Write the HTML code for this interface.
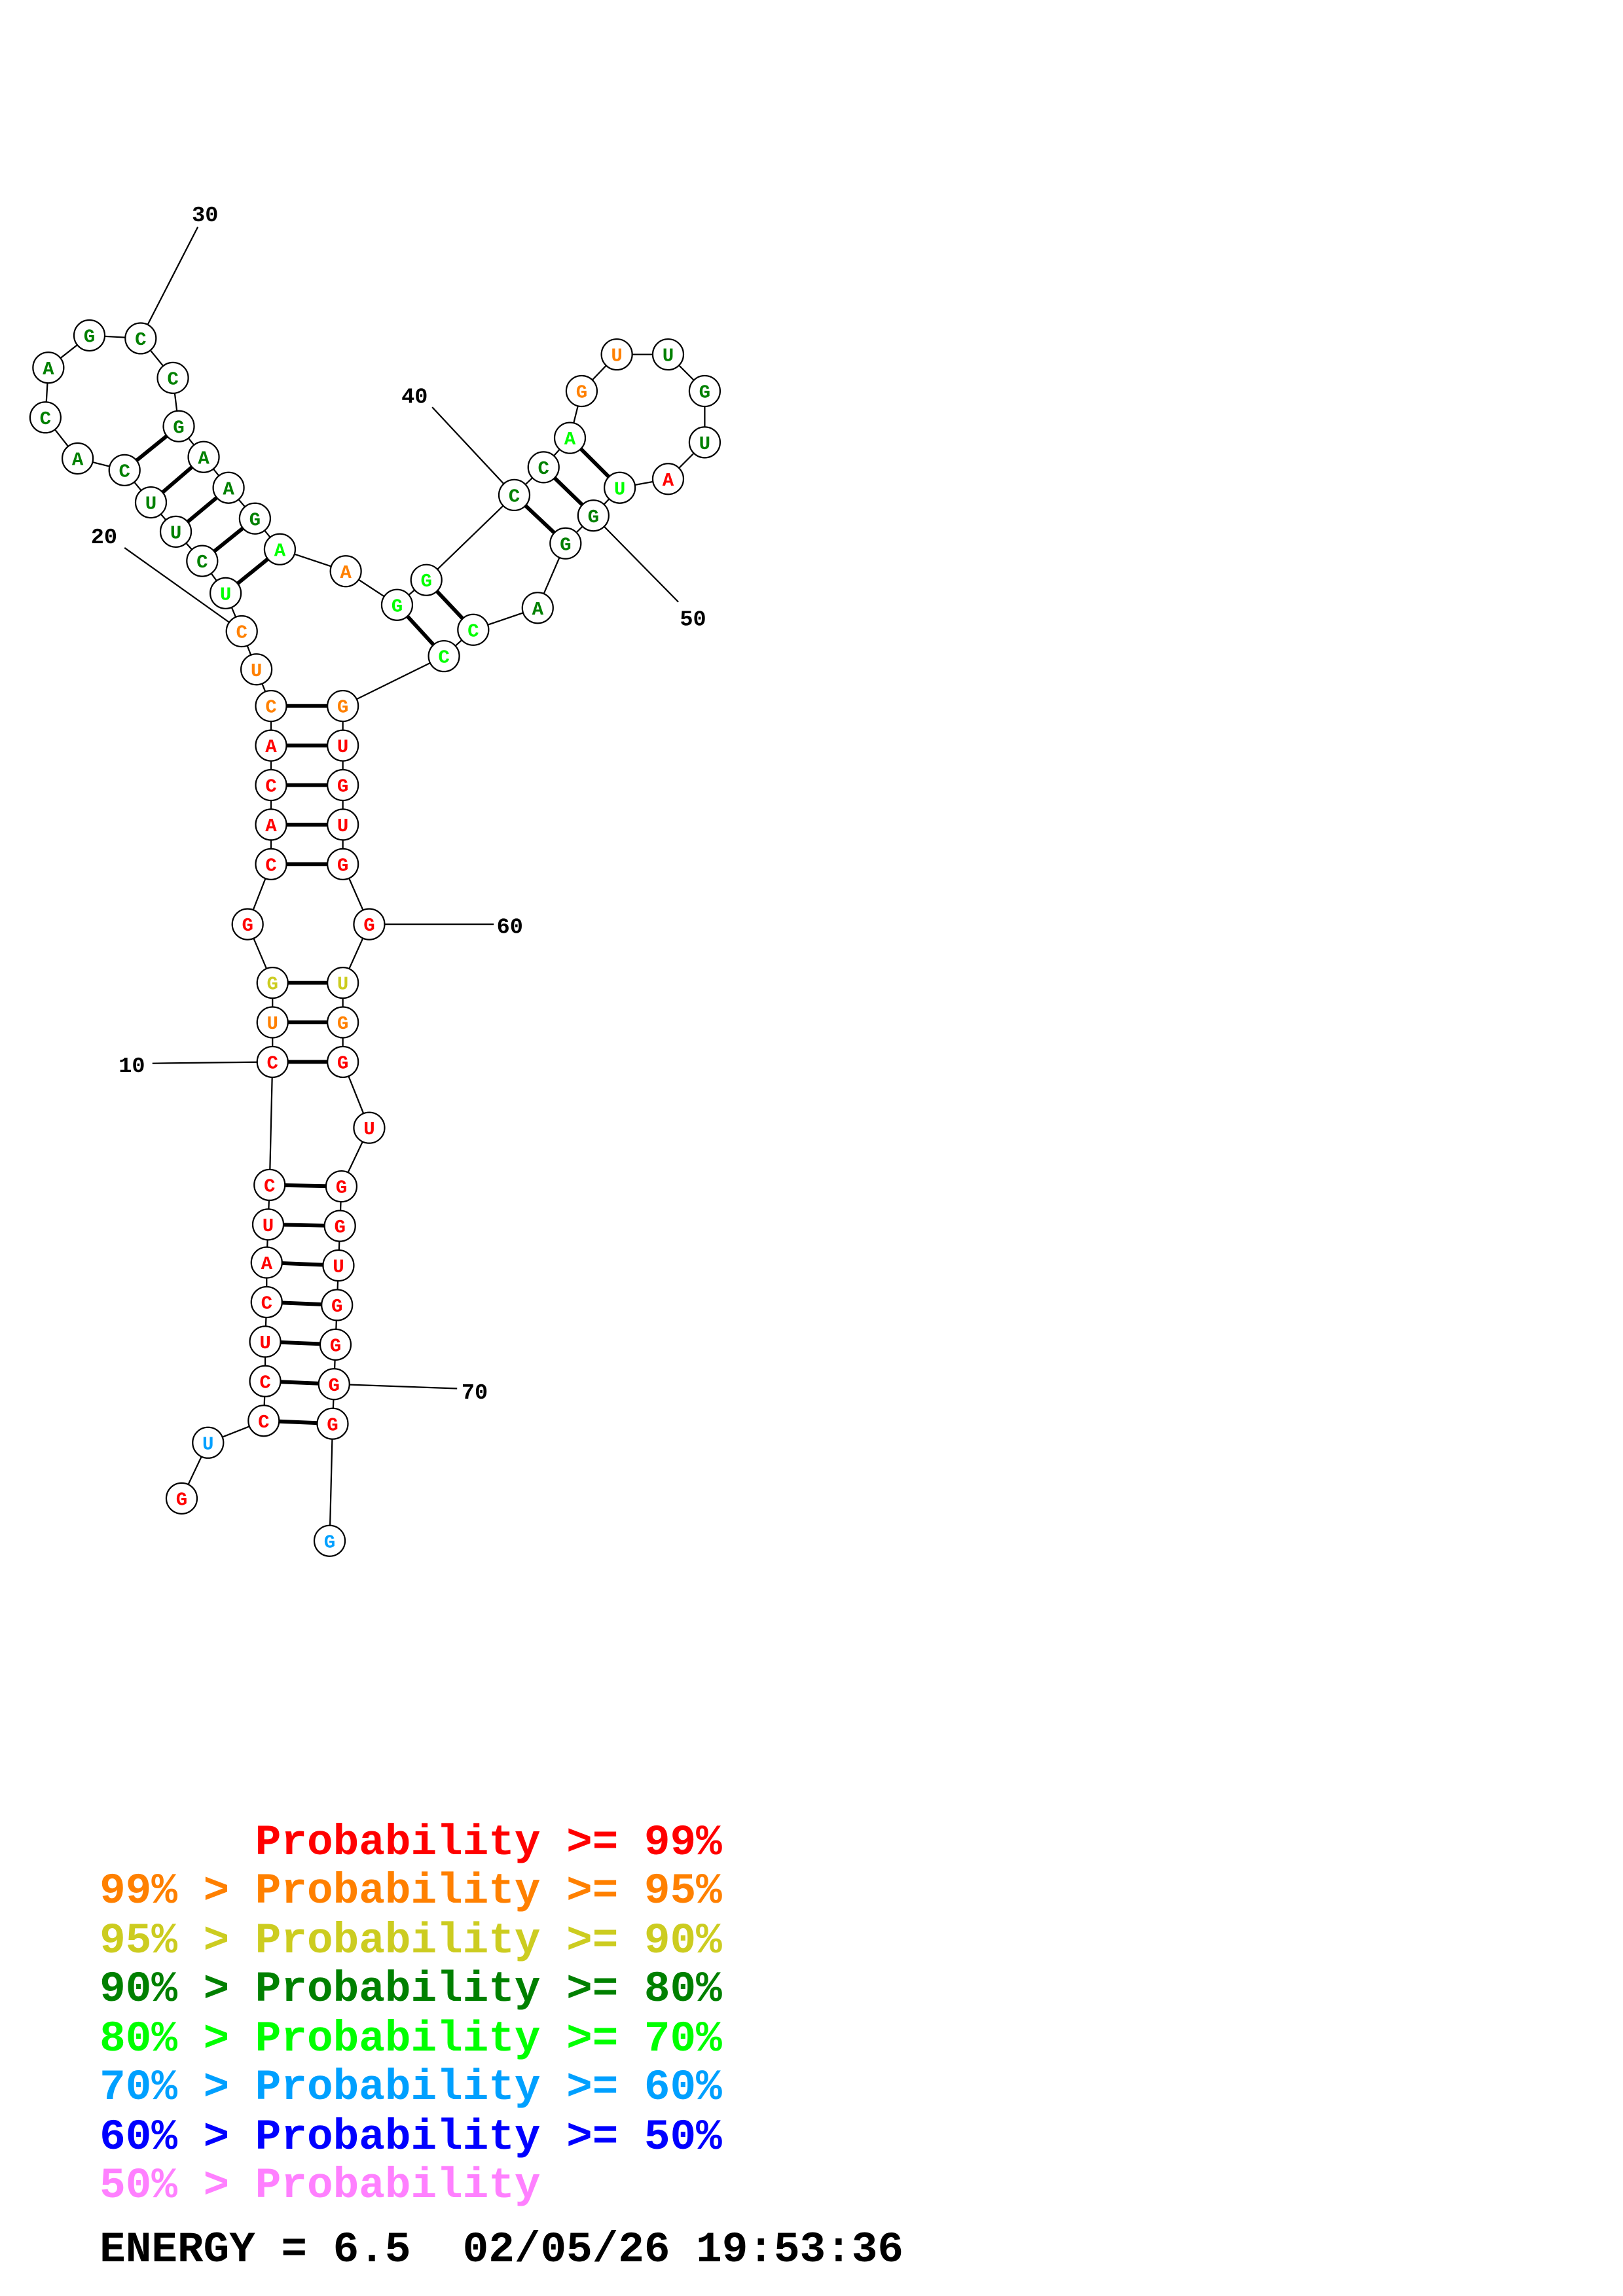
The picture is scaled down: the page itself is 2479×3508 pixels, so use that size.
<!DOCTYPE html>
<html><head><meta charset="utf-8"><style>html,body{margin:0;padding:0;background:#fff}svg{display:block}.pre{white-space:pre}</style></head><body>
<svg width="2479" height="3508" viewBox="0 0 1100 1556.6" preserveAspectRatio="none" xmlns="http://www.w3.org/2000/svg">
<g transform="scale(0.993)">
<g stroke="#000" stroke-width="1" fill="none">
<polyline points="124,1023 142,985 180,970 181,943 181,916 182,889 182,862 183,836 184,809 186,725 186,698 186,671 169,631 185,590 185,563 185,536 185,509 185,482 175,457 165,431 154,405 138,383 120,363 103,343 85,321 53,313 31,285 33,251 61,229 96,231 118,258 122,291 139,312 156,333 174,354 191,375 236,390 271,413 291,396 351,338 371,319 389,299 397,267 421,242 456,242 481,267 481,302 456,327 423,333 405,352 386,371 367,415 323,430 303,448 234,482 234,509 234,536 234,563 234,590 252,631 234,671 234,698 234,725 252,770 233,810 232,837 231,864 230,891 229,918 228,945 227,972 225,1052"/>
<line x1="104" y1="726" x2="186" y2="725"/>
<line x1="85" y1="374" x2="165" y2="431"/>
<line x1="135" y1="155" x2="96" y2="231"/>
<line x1="295" y1="278" x2="351" y2="338"/>
<line x1="463" y1="411" x2="405" y2="352"/>
<line x1="337" y1="631" x2="252" y2="631"/>
<line x1="312" y1="948" x2="228" y2="945"/>
</g>
<g stroke="#000" stroke-width="2.6">
<line x1="180" y1="970" x2="227" y2="972"/><line x1="181" y1="943" x2="228" y2="945"/><line x1="181" y1="916" x2="229" y2="918"/><line x1="182" y1="889" x2="230" y2="891"/><line x1="182" y1="862" x2="231" y2="864"/><line x1="183" y1="836" x2="232" y2="837"/><line x1="184" y1="809" x2="233" y2="810"/>
<line x1="186" y1="725" x2="234" y2="725"/><line x1="186" y1="698" x2="234" y2="698"/><line x1="186" y1="671" x2="234" y2="671"/>
<line x1="185" y1="590" x2="234" y2="590"/><line x1="185" y1="563" x2="234" y2="563"/><line x1="185" y1="536" x2="234" y2="536"/><line x1="185" y1="509" x2="234" y2="509"/><line x1="185" y1="482" x2="234" y2="482"/>
<line x1="154" y1="405" x2="191" y2="375"/><line x1="138" y1="383" x2="174" y2="354"/><line x1="120" y1="363" x2="156" y2="333"/><line x1="103" y1="343" x2="139" y2="312"/><line x1="85" y1="321" x2="122" y2="291"/>
<line x1="271" y1="413" x2="303" y2="448"/><line x1="291" y1="396" x2="323" y2="430"/>
<line x1="351" y1="338" x2="386" y2="371"/><line x1="371" y1="319" x2="405" y2="352"/><line x1="389" y1="299" x2="423" y2="333"/>
</g>
<g stroke="#000" stroke-width="1" fill="#fff">
<circle cx="124" cy="1023" r="10.5"/><circle cx="142" cy="985" r="10.5"/><circle cx="180" cy="970" r="10.5"/><circle cx="181" cy="943" r="10.5"/><circle cx="181" cy="916" r="10.5"/><circle cx="182" cy="889" r="10.5"/><circle cx="182" cy="862" r="10.5"/><circle cx="183" cy="836" r="10.5"/><circle cx="184" cy="809" r="10.5"/><circle cx="186" cy="725" r="10.5"/><circle cx="186" cy="698" r="10.5"/><circle cx="186" cy="671" r="10.5"/><circle cx="169" cy="631" r="10.5"/><circle cx="185" cy="590" r="10.5"/><circle cx="185" cy="563" r="10.5"/><circle cx="185" cy="536" r="10.5"/><circle cx="185" cy="509" r="10.5"/><circle cx="185" cy="482" r="10.5"/><circle cx="175" cy="457" r="10.5"/><circle cx="165" cy="431" r="10.5"/><circle cx="154" cy="405" r="10.5"/><circle cx="138" cy="383" r="10.5"/><circle cx="120" cy="363" r="10.5"/><circle cx="103" cy="343" r="10.5"/><circle cx="85" cy="321" r="10.5"/><circle cx="53" cy="313" r="10.5"/><circle cx="31" cy="285" r="10.5"/><circle cx="33" cy="251" r="10.5"/><circle cx="61" cy="229" r="10.5"/><circle cx="96" cy="231" r="10.5"/><circle cx="118" cy="258" r="10.5"/><circle cx="122" cy="291" r="10.5"/><circle cx="139" cy="312" r="10.5"/><circle cx="156" cy="333" r="10.5"/><circle cx="174" cy="354" r="10.5"/><circle cx="191" cy="375" r="10.5"/><circle cx="236" cy="390" r="10.5"/><circle cx="271" cy="413" r="10.5"/><circle cx="291" cy="396" r="10.5"/><circle cx="351" cy="338" r="10.5"/><circle cx="371" cy="319" r="10.5"/><circle cx="389" cy="299" r="10.5"/><circle cx="397" cy="267" r="10.5"/><circle cx="421" cy="242" r="10.5"/><circle cx="456" cy="242" r="10.5"/><circle cx="481" cy="267" r="10.5"/><circle cx="481" cy="302" r="10.5"/><circle cx="456" cy="327" r="10.5"/><circle cx="423" cy="333" r="10.5"/><circle cx="405" cy="352" r="10.5"/><circle cx="386" cy="371" r="10.5"/><circle cx="367" cy="415" r="10.5"/><circle cx="323" cy="430" r="10.5"/><circle cx="303" cy="448" r="10.5"/><circle cx="234" cy="482" r="10.5"/><circle cx="234" cy="509" r="10.5"/><circle cx="234" cy="536" r="10.5"/><circle cx="234" cy="563" r="10.5"/><circle cx="234" cy="590" r="10.5"/><circle cx="252" cy="631" r="10.5"/><circle cx="234" cy="671" r="10.5"/><circle cx="234" cy="698" r="10.5"/><circle cx="234" cy="725" r="10.5"/><circle cx="252" cy="770" r="10.5"/><circle cx="233" cy="810" r="10.5"/><circle cx="232" cy="837" r="10.5"/><circle cx="231" cy="864" r="10.5"/><circle cx="230" cy="891" r="10.5"/><circle cx="229" cy="918" r="10.5"/><circle cx="228" cy="945" r="10.5"/><circle cx="227" cy="972" r="10.5"/><circle cx="225" cy="1052" r="10.5"/>
</g>
<g font-family="Liberation Mono, monospace" font-weight="bold" font-size="13" text-anchor="middle">
<text x="124" y="1027.5" fill="#f00">G</text><text x="142" y="989.5" fill="#00a0ff">U</text><text x="180" y="974.5" fill="#f00">C</text><text x="181" y="947.5" fill="#f00">C</text><text x="181" y="920.5" fill="#f00">U</text><text x="182" y="893.5" fill="#f00">C</text><text x="182" y="866.5" fill="#f00">A</text><text x="183" y="840.5" fill="#f00">U</text><text x="184" y="813.5" fill="#f00">C</text><text x="186" y="729.5" fill="#f00">C</text><text x="186" y="702.5" fill="#ff8000">U</text><text x="186" y="675.5" fill="#cccc20">G</text><text x="169" y="635.5" fill="#f00">G</text><text x="185" y="594.5" fill="#f00">C</text><text x="185" y="567.5" fill="#f00">A</text><text x="185" y="540.5" fill="#f00">C</text><text x="185" y="513.5" fill="#f00">A</text><text x="185" y="486.5" fill="#ff8000">C</text><text x="175" y="461.5" fill="#ff8000">U</text><text x="165" y="435.5" fill="#ff8000">C</text><text x="154" y="409.5" fill="#0f0">U</text><text x="138" y="387.5" fill="#008000">C</text><text x="120" y="367.5" fill="#008000">U</text><text x="103" y="347.5" fill="#008000">U</text><text x="85" y="325.5" fill="#008000">C</text><text x="53" y="317.5" fill="#008000">A</text><text x="31" y="289.5" fill="#008000">C</text><text x="33" y="255.5" fill="#008000">A</text><text x="61" y="233.5" fill="#008000">G</text><text x="96" y="235.5" fill="#008000">C</text><text x="118" y="262.5" fill="#008000">C</text><text x="122" y="295.5" fill="#008000">G</text><text x="139" y="316.5" fill="#008000">A</text><text x="156" y="337.5" fill="#008000">A</text><text x="174" y="358.5" fill="#008000">G</text><text x="191" y="379.5" fill="#0f0">A</text><text x="236" y="394.5" fill="#ff8000">A</text><text x="271" y="417.5" fill="#0f0">G</text><text x="291" y="400.5" fill="#0f0">G</text><text x="351" y="342.5" fill="#008000">C</text><text x="371" y="323.5" fill="#008000">C</text><text x="389" y="303.5" fill="#0f0">A</text><text x="397" y="271.5" fill="#ff8000">G</text><text x="421" y="246.5" fill="#ff8000">U</text><text x="456" y="246.5" fill="#008000">U</text><text x="481" y="271.5" fill="#008000">G</text><text x="481" y="306.5" fill="#008000">U</text><text x="456" y="331.5" fill="#f00">A</text><text x="423" y="337.5" fill="#0f0">U</text><text x="405" y="356.5" fill="#008000">G</text><text x="386" y="375.5" fill="#008000">G</text><text x="367" y="419.5" fill="#008000">A</text><text x="323" y="434.5" fill="#0f0">C</text><text x="303" y="452.5" fill="#0f0">C</text><text x="234" y="486.5" fill="#ff8000">G</text><text x="234" y="513.5" fill="#f00">U</text><text x="234" y="540.5" fill="#f00">G</text><text x="234" y="567.5" fill="#f00">U</text><text x="234" y="594.5" fill="#f00">G</text><text x="252" y="635.5" fill="#f00">G</text><text x="234" y="675.5" fill="#cccc20">U</text><text x="234" y="702.5" fill="#ff8000">G</text><text x="234" y="729.5" fill="#f00">G</text><text x="252" y="774.5" fill="#f00">U</text><text x="233" y="814.5" fill="#f00">G</text><text x="232" y="841.5" fill="#f00">G</text><text x="231" y="868.5" fill="#f00">U</text><text x="230" y="895.5" fill="#f00">G</text><text x="229" y="922.5" fill="#f00">G</text><text x="228" y="949.5" fill="#f00">G</text><text x="227" y="976.5" fill="#f00">G</text><text x="225" y="1056.5" fill="#00a0ff">G</text>
</g>
<g font-family="Liberation Mono, monospace" font-weight="bold" font-size="15" text-anchor="middle" fill="#000">
<text x="90" y="732">10</text><text x="71" y="371">20</text><text x="140" y="151">30</text><text x="283" y="275">40</text><text x="473" y="427">50</text><text x="348" y="637">60</text><text x="324" y="955">70</text>
</g>
<g font-family="Liberation Mono, monospace" font-weight="bold" font-size="29.5" class="pre">
<text class="pre" x="68" y="1266" fill="#f00">      Probability &gt;= 99%</text>
<text class="pre" x="68" y="1299" fill="#ff8000">99% &gt; Probability &gt;= 95%</text>
<text class="pre" x="68" y="1333" fill="#cccc20">95% &gt; Probability &gt;= 90%</text>
<text class="pre" x="68" y="1366" fill="#008000">90% &gt; Probability &gt;= 80%</text>
<text class="pre" x="68" y="1400" fill="#0f0">80% &gt; Probability &gt;= 70%</text>
<text class="pre" x="68" y="1433" fill="#00a0ff">70% &gt; Probability &gt;= 60%</text>
<text class="pre" x="68" y="1467" fill="#00f">60% &gt; Probability &gt;= 50%</text>
<text class="pre" x="68" y="1500" fill="#ff80ff">50% &gt; Probability</text>
<text class="pre" x="68" y="1544" fill="#000">ENERGY = 6.5  02/05/26 19:53:36</text>
</g>
</g>
</svg>
</body></html>
